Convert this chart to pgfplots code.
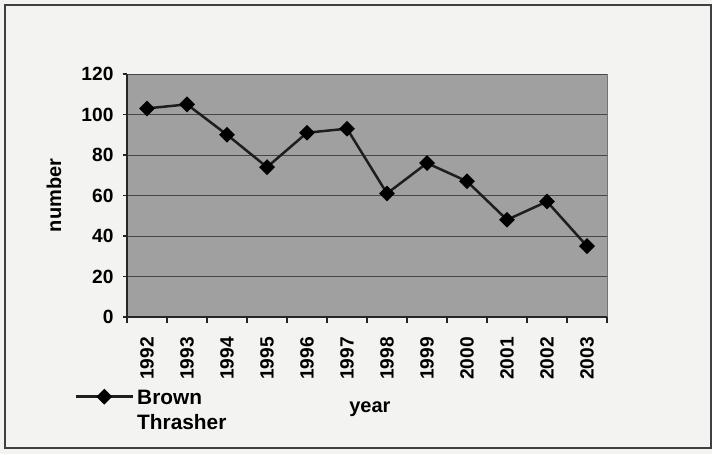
\documentclass[border=0pt]{standalone}
\usepackage{pgfplots}
\pgfplotsset{compat=1.18}
\usepackage{fontspec}
\setmainfont{Liberation Sans}
\definecolor{plotbg}{RGB}{160,160,160}
\definecolor{pagebg}{RGB}{243,243,241}
\definecolor{gridc}{RGB}{70,70,70}
\definecolor{linec}{RGB}{30,30,30}
\begin{document}
\begin{tikzpicture}
\fill[pagebg] (0,0) rectangle (427.2pt,272.4pt);
\draw[black!75, line width=0.8pt] (3pt,3.6pt) rectangle (426.6pt,269.4pt);
\begin{axis}[
  at={(76.2pt,82.2pt)}, anchor=south west,
  scale only axis, width=288pt, height=145.8pt,
  xmin=-0.5, xmax=11.5, ymin=0, ymax=120,
  xtick={0,...,11},
  xticklabels={1992,1993,1994,1995,1996,1997,1998,1999,2000,2001,2002,2003},
  minor xtick={-0.5,0.5,...,11.5},
  ytick={0,20,...,120},
  ymajorgrids,
  grid style={gridc, line width=0.5pt},
  axis background/.style={fill=plotbg, draw=black!55},
  axis x line*=bottom, axis y line*=left,
  axis line style={-, black!85, line width=0.9pt},
  tick align=outside,
  xtick pos=bottom, ytick pos=left,
  major tick length=2.6pt, minor tick length=3.8pt,
  major x tick style={draw=none},
  tick style={black!85, line width=0.7pt},
  /pgf/number format/assume math mode=true,
  ticklabel style={font=\bfseries\fontsize{11.5}{13}\selectfont},
  xticklabel style={yshift=-6pt, rotate=90, anchor=east},
  yticklabel style={xshift=-2pt},
  ylabel={number},
  ylabel style={at={(axis description cs:-0.152,0.5)}, anchor=center, font=\bfseries\fontsize{12}{14}\selectfont},
  xlabel={year},
  xlabel style={at={(axis description cs:0.506,-0.38)}, anchor=center, font=\bfseries\fontsize{12}{14}\selectfont},
  legend style={at={(axis description cs:-0.12,-0.258)}, anchor=north west, draw=none, fill=none,
    font=\bfseries\fontsize{12.5}{15}\selectfont},
  legend cell align=left,
  legend image code/.code={\draw[#1, mark repeat=2, mark phase=2] plot coordinates {(0pt,0pt) (17pt,0pt) (34pt,0pt)};},
]
\addplot[linec, line width=1.5pt, mark=square*, mark size=2.6pt, mark options={solid, rotate=45, fill=black, draw=black}]
  coordinates {(0,103) (1,105) (2,90) (3,74) (4,91) (5,93) (6,61) (7,76) (8,67) (9,48) (10,57) (11,35)};
\addlegendentry{\begin{tabular}[t]{@{}l@{}}Brown\\Thrasher\end{tabular}}
\end{axis}
\end{tikzpicture}
\end{document}
